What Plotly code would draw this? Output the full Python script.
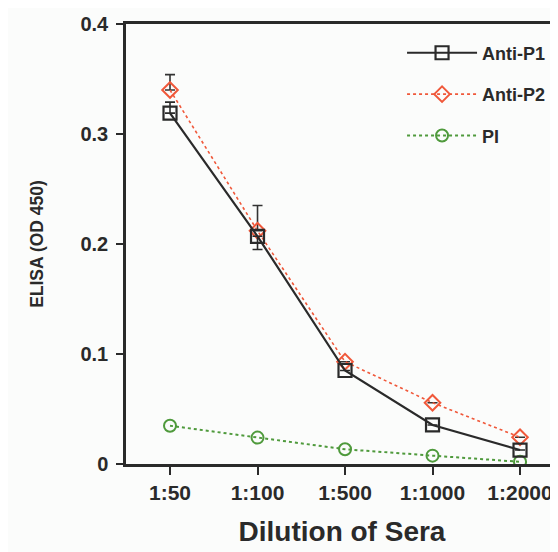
import plotly.graph_objects as go

dilutions = ["1:50", "1:100", "1:500", "1:1000", "1:2000"]
anti_p1 = [0.319, 0.207, 0.085, 0.0355, 0.0127]
anti_p1_err_up = [0.010, 0.0, 0.0, 0.0, 0.0]
anti_p1_err_down = [0.0, 0.012, 0.0, 0.0, 0.0]
anti_p2 = [0.340, 0.212, 0.093, 0.0557, 0.0243]
anti_p2_err_up = [0.014, 0.023, 0.0, 0.0, 0.0]
pi_vals = [0.0348, 0.024, 0.0134, 0.0076, 0.002]
y_ticks = [0, 0.1, 0.2, 0.3, 0.4]
y_tick_text = ["0", "0.1", "0.2", "0.3", "0.4"]

FONT = "Liberation Sans"
BG = "#fbfcfb"

fig = go.Figure()

fig.add_trace(go.Scatter(
    x=dilutions, y=pi_vals, name="PI", legendrank=3, legendgroup="c",
    mode="lines+markers",
    line=dict(color="#4f9a3c", width=2, dash="dot"),
    marker=dict(symbol="circle-open", size=12, color="#4f9a3c", line=dict(width=2)),
))
fig.add_trace(go.Scatter(
    x=dilutions, y=anti_p2, name="Anti-P2", legendrank=2, legendgroup="b",
    mode="lines+markers",
    line=dict(color="#f0583a", width=1.6, dash="dot"),
    marker=dict(symbol="diamond-open", size=12, color="#f0583a", line=dict(width=2)),
    error_y=dict(type="data", array=anti_p2_err_up, arrayminus=[0]*5, symmetric=False,
                 color="#333333", thickness=1.6, width=5),
))
fig.add_trace(go.Scatter(
    x=dilutions, y=anti_p1, name="Anti-P1", legendrank=1, legendgroup="a",
    mode="lines+markers",
    line=dict(color="#2a2a2a", width=2.2),
    marker=dict(symbol="square-open", size=13, color="#2a2a2a", line=dict(width=2.2)),
    error_y=dict(type="data", array=anti_p1_err_up, arrayminus=anti_p1_err_down, symmetric=False,
                 color="#2a2a2a", thickness=1.6, width=5),
))

fig.update_layout(
    width=558, height=552,
    margin=dict(l=118, r=8, t=16, b=96, autoexpand=False),
    paper_bgcolor=BG, plot_bgcolor=BG,
    font=dict(family=FONT, color="#2a2a2a", weight="bold"),
    showlegend=True,
    legend=dict(
        x=0.639, y=0.976, xanchor="left", yanchor="top",
        bgcolor="rgba(0,0,0,0)", font=dict(size=18, family=FONT, weight="bold"),
        itemwidth=70, tracegroupgap=15, traceorder="grouped",
    ),
    xaxis=dict(
        type="category", range=[-0.503, 4.434], automargin=False,
        showline=True, linecolor="#2a2a2a", linewidth=2.5, mirror=True,
        ticks="outside", ticklen=8, tickwidth=2, tickcolor="#2a2a2a",
        tickfont=dict(size=21, family=FONT, weight="bold"),
        showgrid=False, zeroline=False,
        title=dict(text="Dilution of Sera", font=dict(size=28, family=FONT, weight="bold"), standoff=19),
    ),
    yaxis=dict(
        range=[0, 0.4], tickvals=y_ticks, ticktext=y_tick_text, automargin=False,
        showline=True, linecolor="#2a2a2a", linewidth=2.5,
        ticks="outside", ticklen=7, tickwidth=2, tickcolor="#2a2a2a",
        tickfont=dict(size=20, family=FONT, weight="bold"), ticklabelstandoff=4,
        showgrid=False, zeroline=False,
        title=dict(text="ELISA (OD 450)", font=dict(size=17.5, family=FONT, weight="bold"), standoff=33),
    ),
)

fig.write_html("out.html")
